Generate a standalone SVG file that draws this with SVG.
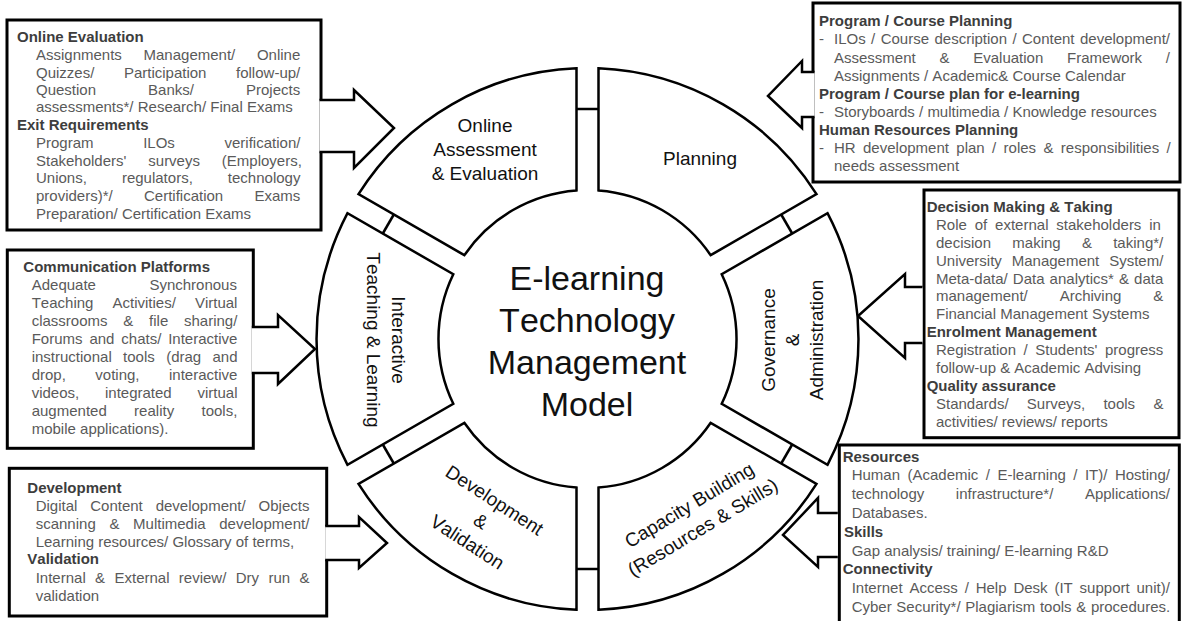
<svg xmlns="http://www.w3.org/2000/svg" width="1185" height="621" viewBox="0 0 1185 621">
  <style>
    text{font-family:'Liberation Sans',Arial,Helvetica,sans-serif;font-kerning:none}
    .h{font-size:15px;font-weight:bold;fill:#3d3d3d}
    .b{font-size:15px;fill:#5a5a5a}
    .box{fill:#fff;stroke:#000;stroke-width:3}
    .seg{fill:#fff;stroke:#000;stroke-width:2.5;stroke-linejoin:miter}
    .lbl{font-size:19px;fill:#111;text-anchor:middle}
    .hub{font-size:34px;fill:#111;text-anchor:middle}
    .arr{fill:#fff;stroke:#000;stroke-width:2.5;stroke-linejoin:miter}
    .br{stroke:#000;stroke-width:2.5;fill:none}
  </style>
  <rect width="1185" height="621" fill="#fff"/>

  <!-- detail boxes -->
  <g id="box-online-evaluation">
    <rect class="box" x="7" y="20" width="314" height="210"/>
    <text class="h" x="17" y="41.7">Online Evaluation</text>
    <text class="b" x="36" y="60" word-spacing="17.5">Assignments Management/ Online</text>
    <text class="b" x="36" y="77.7" word-spacing="25.4">Quizzes/ Participation follow-up/</text>
    <text class="b" x="36" y="95" word-spacing="47.9">Question Banks/ Projects</text>
    <text class="b" x="36" y="112.3">assessments*/ Research/ Final Exams</text>
    <text class="h" x="17" y="130">Exit Requirements</text>
    <text class="b" x="36" y="148.3" word-spacing="45.5">Program ILOs verification/</text>
    <text class="b" x="36" y="166" word-spacing="17.7">Stakeholders' surveys (Employers,</text>
    <text class="b" x="36" y="183.3" word-spacing="30.9">Unions, regulators, technology</text>
    <text class="b" x="36" y="201" word-spacing="27.1">providers)*/ Certification Exams</text>
    <text class="b" x="36" y="218.7">Preparation/ Certification Exams</text>
  </g>

  <g id="box-course-planning">
    <rect class="box" x="813" y="3" width="367" height="179"/>
    <text class="h" x="819" y="26">Program / Course Planning</text>
    <text class="b" x="819" y="44.3">-</text>
    <text class="b" x="834" y="44.3" word-spacing="1.25">ILOs / Course description / Content development/</text>
    <text class="b" x="834" y="62.7" word-spacing="19.6">Assessment &amp; Evaluation Framework /</text>
    <text class="b" x="834" y="81">Assignments / Academic&amp; Course Calendar</text>
    <text class="h" x="819" y="99.3">Program / Course plan for e-learning</text>
    <text class="b" x="819" y="117.3">-</text>
    <text class="b" x="834" y="117.3">Storyboards / multimedia / Knowledge resources</text>
    <text class="h" x="819" y="135">Human Resources Planning</text>
    <text class="b" x="819" y="153.3">-</text>
    <text class="b" x="834" y="153.3" word-spacing="3.2">HR development plan / roles &amp; responsibilities /</text>
    <text class="b" x="834" y="171">needs assessment</text>
  </g>

  <g id="box-communication">
    <rect class="box" x="7.3" y="250" width="246" height="198.3"/>
    <text class="h" x="23.3" y="271.7">Communication Platforms</text>
    <text class="b" x="31.7" y="289.5" word-spacing="49.3">Adequate Synchronous</text>
    <text class="b" x="31.7" y="307.6" word-spacing="14.9">Teaching Activities/ Virtual</text>
    <text class="b" x="31.7" y="325.7" word-spacing="11.6">classrooms &amp; file sharing/</text>
    <text class="b" x="31.7" y="343.8" word-spacing="2.7">Forums and chats/ Interactive</text>
    <text class="b" x="31.7" y="361.9" word-spacing="7.2">instructional tools (drag and</text>
    <text class="b" x="31.7" y="380" word-spacing="25.3">drop, voting, interactive</text>
    <text class="b" x="31.7" y="398.1" word-spacing="21.6">videos, integrated virtual</text>
    <text class="b" x="31.7" y="416.2" word-spacing="23.2">augmented reality tools,</text>
    <text class="b" x="31.7" y="434.3">mobile applications).</text>
  </g>

  <g id="box-development">
    <rect class="box" x="9.3" y="468.3" width="317.4" height="147.7"/>
    <text class="h" x="27.3" y="493.3">Development</text>
    <text class="b" x="35.7" y="511" word-spacing="8.7">Digital Content development/ Objects</text>
    <text class="b" x="35.7" y="529.3" word-spacing="9.5">scanning &amp; Multimedia development/</text>
    <text class="b" x="35.7" y="546.7">Learning resources/ Glossary of terms,</text>
    <text class="h" x="27.3" y="564">Validation</text>
    <text class="b" x="35.7" y="582.7" word-spacing="5.2">Internal &amp; External review/ Dry run &amp;</text>
    <text class="b" x="35.7" y="600.7">validation</text>
  </g>

  <g id="box-decision">
    <rect class="box" x="924" y="190" width="255" height="247.7"/>
    <text class="h" x="926.7" y="211.7">Decision Making &amp; Taking</text>
    <text class="b" x="936" y="229.6" word-spacing="3.7">Role of external stakeholders in</text>
    <text class="b" x="936" y="247.6" word-spacing="17.1">decision making &amp; taking*/</text>
    <text class="b" x="936" y="265.5" word-spacing="5.7">University Management System/</text>
    <text class="b" x="936" y="283.5" word-spacing="0.95">Meta-data/ Data analytics* &amp; data</text>
    <text class="b" x="936" y="301.4" word-spacing="27.8">management/ Archiving &amp;</text>
    <text class="b" x="936" y="319.4">Financial Management Systems</text>
    <text class="h" x="926.7" y="337.3">Enrolment Management</text>
    <text class="b" x="936" y="355.3" word-spacing="3.4">Registration / Students' progress</text>
    <text class="b" x="936" y="373.2">follow-up &amp; Academic Advising</text>
    <text class="h" x="926.7" y="391.2">Quality assurance</text>
    <text class="b" x="936" y="409.1" word-spacing="14.1">Standards/ Surveys, tools &amp;</text>
    <text class="b" x="936" y="427.1">activities/ reviews/ reports</text>
  </g>

  <g id="box-resources">
    <rect class="box" x="839.3" y="445" width="340" height="190"/>
    <text class="h" x="842.7" y="461.5">Resources</text>
    <text class="b" x="851.7" y="480.3" word-spacing="3.3">Human (Academic / E-learning / IT)/ Hosting/</text>
    <text class="b" x="851.7" y="499.1" word-spacing="27.4">technology infrastructure*/ Applications/</text>
    <text class="b" x="851.7" y="517.9">Databases.</text>
    <text class="h" x="844" y="536.7">Skills</text>
    <text class="b" x="851.7" y="555.5">Gap analysis/ training/ E-learning R&amp;D</text>
    <text class="h" x="842.7" y="574.3">Connectivity</text>
    <text class="b" x="851.7" y="593.1" word-spacing="2.7">Internet Access / Help Desk (IT support unit)/</text>
    <text class="b" x="851.7" y="611.9" word-spacing="0.5">Cyber Security*/ Plagiarism tools &amp; procedures.</text>
  </g>

  <!-- block arrows from the boxes and the bridges between ring segments -->
  <g id="connectors">
    <path class="arr" d="M319.5,100 H354 V90 L394,128 L354,168 V152 H319.5"/>
    <path class="arr" d="M814.5,72 H802 V61 L768,96 L802,128 V117 H814.5"/>
    <path class="arr" d="M251.8,327 H278 V315 L315,349 L278,384 V373 H251.8"/>
    <path class="arr" d="M325.2,526 H359 V517 L387,543 L359,568 V560 H325.2"/>
    <path class="arr" d="M922.5,287 H905 V274 L858,316 L905,358 V343 H922.5"/>
    <path class="arr" d="M837.8,513 H818 V498 L783,535 L818,567 V557 H837.8"/>
    <line class="br" x1="576.5" y1="109" x2="598.5" y2="109"/>
    <line class="br" x1="781.2" y1="214.5" x2="792.2" y2="233.5"/>
    <line class="br" x1="792.2" y1="444.5" x2="781.2" y2="463.5"/>
    <line class="br" x1="576.5" y1="569" x2="598.5" y2="569"/>
    <line class="br" x1="382.8" y1="444.5" x2="393.8" y2="463.5"/>
    <line class="br" x1="393.8" y1="214.5" x2="382.8" y2="233.5"/>
  </g>

  <!-- ring segments -->
  <g id="seg-online-assessment">
    <path class="seg" d="M358.5,194.1 A271,271 0 0 1 576.5,68.2 L576.5,190.4 A149,149 0 0 0 464.3,255.2 Z"/>
    <text class="lbl" x="485" y="131.7">Online</text>
    <text class="lbl" x="485" y="155.7">Assessment</text>
    <text class="lbl" x="485" y="179.5">&amp; Evaluation</text>
  </g>
  <g id="seg-planning">
    <path class="seg" d="M598.5,68.2 A271,271 0 0 1 816.5,194.1 L710.7,255.2 A149,149 0 0 0 598.5,190.4 Z"/>
    <text class="lbl" x="700" y="165">Planning</text>
  </g>
  <g id="seg-governance">
    <path class="seg" d="M827.5,213.2 A271,271 0 0 1 827.5,464.8 L721.7,403.8 A149,149 0 0 0 721.7,274.2 Z"/>
    <g transform="translate(775 340) rotate(-90)">
      <text class="lbl" x="0" y="0">Governance</text>
      <text class="lbl" x="0" y="24">&amp;</text>
      <text class="lbl" x="0" y="48">Administration</text>
    </g>
  </g>
  <g id="seg-capacity">
    <path class="seg" d="M816.5,483.9 A271,271 0 0 1 598.5,609.8 L598.5,487.6 A149,149 0 0 0 710.7,422.8 Z"/>
    <g transform="translate(696 516) rotate(-31)">
      <text class="lbl" x="0" y="-6.3">Capacity Building</text>
      <text class="lbl" x="0" y="19.7">(Resources &amp; Skills)</text>
    </g>
  </g>
  <g id="seg-development">
    <path class="seg" d="M576.5,609.8 A271,271 0 0 1 358.5,483.9 L464.3,422.8 A149,149 0 0 0 576.5,487.6 Z"/>
    <g transform="translate(481 521) rotate(33)">
      <text class="lbl" x="0" y="-18.3">Development</text>
      <text class="lbl" x="0" y="6.7">&amp;</text>
      <text class="lbl" x="0" y="31.7">Validation</text>
    </g>
  </g>
  <g id="seg-interactive">
    <path class="seg" d="M347.5,464.8 A271,271 0 0 1 347.5,213.2 L453.3,274.2 A149,149 0 0 0 453.3,403.8 Z"/>
    <g transform="translate(392 340) rotate(90)">
      <text class="lbl" x="0" y="0">Interactive</text>
      <text class="lbl" x="0" y="25.5">Teaching &amp; Learning</text>
    </g>
  </g>

  <!-- hub title -->
  <g id="hub">
    <text class="hub" x="587" y="290">E-learning</text>
    <text class="hub" x="587" y="331.5">Technology</text>
    <text class="hub" x="587" y="373.5">Management</text>
    <text class="hub" x="587" y="415.5">Model</text>
  </g>
</svg>
